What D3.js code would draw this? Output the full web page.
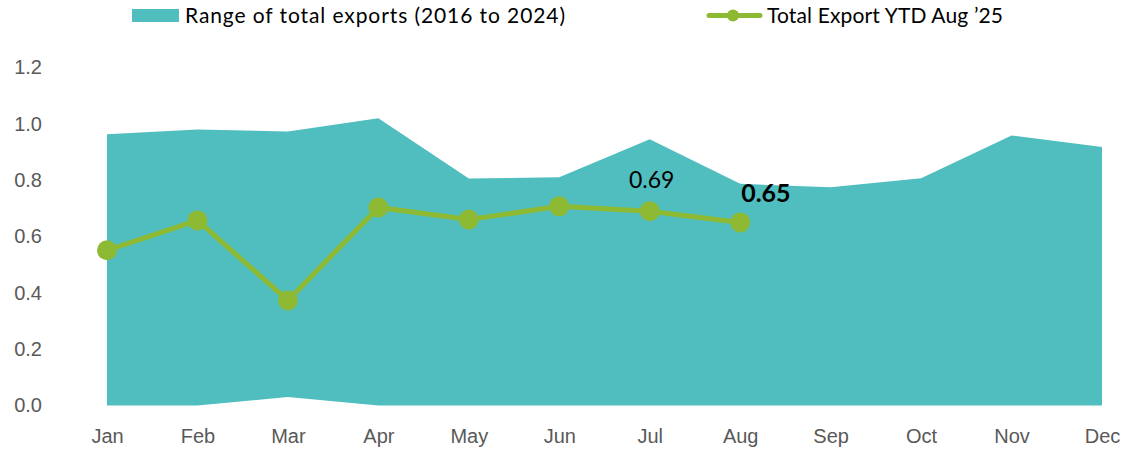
<!DOCTYPE html>
<html>
<head>
<meta charset="utf-8">
<script src="https://cdn.jsdelivr.net/npm/d3@7"></script>
<style>
  body { margin: 0; background: #fff; }
  svg { display: block; font-family: "Lato", "Open Sans", sans-serif; }
</style>
</head>
<body>
<div id="chart"></div>
<script>
// data
var months = ["Jan", "Feb", "Mar", "Apr", "May", "Jun", "Jul", "Aug", "Sep", "Oct", "Nov", "Dec"];
var rangeMin = [0.0, 0.0, 0.03, 0.0, 0.0, 0.0, 0.0, 0.0, 0.0, 0.0, 0.0, 0.0];
var rangeMax = [0.963, 0.98, 0.973, 1.02, 0.806, 0.81, 0.945, 0.787, 0.775, 0.807, 0.959, 0.918];
var ytd2025 = [0.551, 0.657, 0.373, 0.703, 0.66, 0.707, 0.69, 0.65];
var yTicks = [0, 0.2, 0.4, 0.6, 0.8, 1.0, 1.2];

var width = 1122, height = 451;
var teal = "#50BDBE", green = "#8DB933";

var svg = d3.select("#chart").append("svg")
    .attr("width", width)
    .attr("height", height);

var x = d3.scalePoint()
    .domain(months)
    .range([107, 1102]);

var y = d3.scaleLinear()
    .domain([0, 1.2])
    .range([405.5, 67.5]);

// range band
var rows = months.map(function (m, i) {
    return { m: m, lo: rangeMin[i], hi: rangeMax[i] };
});

var area = d3.area()
    .x(function (d) { return x(d.m); })
    .y0(function (d) { return y(d.lo); })
    .y1(function (d) { return y(d.hi); });

svg.append("path")
    .datum(rows)
    .attr("fill", teal)
    .attr("d", area);

// y axis
var yAxis = d3.axisLeft(y)
    .tickValues(yTicks)
    .tickSize(0)
    .tickPadding(0)
    .tickFormat(d3.format(".1f"));

var yg = svg.append("g")
    .attr("transform", "translate(42,0)")
    .call(yAxis);
yg.select(".domain").remove();
yg.selectAll("text")
    .attr("fill", "#595959")
    .style("font-size", "20px");

// x axis
var xAxis = d3.axisBottom(x).tickSize(0).tickPadding(0);
var xg = svg.append("g")
    .attr("transform", "translate(0,429)")
    .call(xAxis);
xg.select(".domain").remove();
xg.selectAll("text")
    .attr("fill", "#595959")
    .style("font-size", "20px");

// 2025 line
var line = d3.line()
    .x(function (d, i) { return x(months[i]); })
    .y(function (d) { return y(d); });

svg.append("path")
    .datum(ytd2025)
    .attr("fill", "none")
    .attr("stroke", green)
    .attr("stroke-width", 5)
    .attr("d", line);

svg.selectAll("circle.pt")
    .data(ytd2025)
    .enter().append("circle")
    .attr("class", "pt")
    .attr("cx", function (d, i) { return x(months[i]); })
    .attr("cy", function (d) { return y(d); })
    .attr("r", 10)
    .attr("fill", green);

// value labels
svg.append("text")
    .attr("x", x("Jul") + 2)
    .attr("y", y(ytd2025[6]) - 23)
    .attr("text-anchor", "middle")
    .attr("fill", "#000")
    .style("font-size", "23px")
    .text(d3.format(".2f")(ytd2025[6]));

svg.append("text")
    .attr("x", x("Aug") + 1)
    .attr("y", y(ytd2025[7]) - 20)
    .attr("fill", "#000")
    .style("font-size", "25px")
    .style("font-weight", "bold")
    .text(d3.format(".2f")(ytd2025[7]));

// legend
var lg = svg.append("g");
lg.append("rect")
    .attr("x", 132).attr("y", 9)
    .attr("width", 47).attr("height", 13)
    .attr("fill", teal);
lg.append("text")
    .attr("x", 185).attr("y", 23)
    .attr("fill", "#000")
    .style("font-size", "21px")
    .attr("textLength", 380)
    .text("Range of total exports (2016 to 2024)");

lg.append("line")
    .attr("x1", 709).attr("x2", 760)
    .attr("y1", 15.5).attr("y2", 15.5)
    .attr("stroke", green)
    .attr("stroke-width", 5)
    .attr("stroke-linecap", "round");
lg.append("circle")
    .attr("cx", 733).attr("cy", 15.5).attr("r", 6)
    .attr("fill", green);
lg.append("text")
    .attr("x", 767).attr("y", 23)
    .attr("fill", "#000")
    .style("font-size", "21px")
    .attr("textLength", 236)
    .text("Total Export YTD Aug \u201925");
</script>
</body>
</html>
